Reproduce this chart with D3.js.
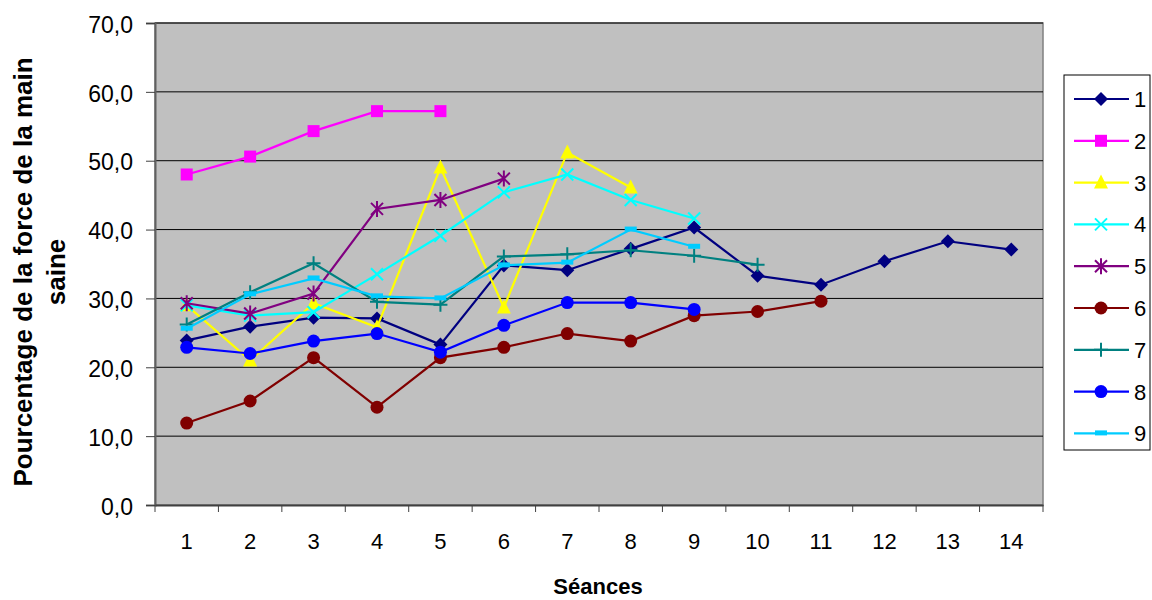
<!DOCTYPE html>
<html><head><meta charset="utf-8">
<script src="https://cdn.jsdelivr.net/npm/d3@7"></script>
<style>body{margin:0;background:#fff}</style>
</head><body><svg id="c" width="1152" height="600"></svg>
<script>
const categories = ["1","2","3","4","5","6","7","8","9","10","11","12","13","14"];
const yTicks = [0,10,20,30,40,50,60,70];
const seriesNames = ["1","2","3","4","5","6","7","8","9"];
const s1 = [23.9,25.9,27.2,27.1,23.3,34.8,34.1,37.2,40.3,33.3,32.0,35.4,38.3,37.1];
const s2 = [48.0,50.6,54.3,57.2,57.2];
const s3 = [29.0,21.0,29.3,25.8,49.0,28.7,51.2,46.1];
const s4 = [29.0,27.5,28.0,33.5,39.1,45.4,48.0,44.3,41.6];
const s5 = [29.3,27.8,30.7,43.0,44.3,47.4];
const s6 = [11.9,15.1,21.4,14.2,21.4,22.9,24.9,23.8,27.5,28.1,29.6];
const s7 = [26.2,30.9,35.1,29.5,29.1,36.1,36.4,37.0,36.2,34.9];
const s8 = [22.9,22.0,23.8,24.9,22.2,26.1,29.4,29.4,28.4];
const s9 = [25.6,30.6,32.9,30.3,30.0,34.8,35.2,40.0,37.5];
const seriesValues = [s1,s2,s3,s4,s5,s6,s7,s8,s9];
const colors = ["#000080","#FF00FF","#FFFF00","#00FFFF","#800080","#800000","#008080","#0000FF","#00CCFF"];
const markers = ["diamond","square","triangle","x","star","circle","plus","circle","dash"];

const svg = d3.select("#c");
const L=155,R=1043,T=23,B=505;
const x = d3.scaleBand().domain(categories).range([L,R]);
const y = d3.scaleLinear().domain([0,70]).range([B,T]);
const font = "Liberation Sans, Arial, sans-serif";

svg.append("rect").attr("x",L).attr("y",T).attr("width",R-L).attr("height",B-T)
  .attr("fill","#C0C0C0").attr("stroke","#808080").attr("stroke-width",1.5);
svg.append("g").selectAll("line").data(yTicks.filter(d=>d>0)).join("line")
  .attr("x1",L).attr("x2",R).attr("y1",d=>y(d)).attr("y2",d=>y(d))
  .attr("stroke","#000").attr("stroke-width",1);

// y axis
const ya = svg.append("g").attr("transform",`translate(${L},0)`)
  .call(d3.axisLeft(y).tickValues(yTicks).tickSize(9).tickPadding(13)
    .tickFormat(d=>d3.format(".1f")(d).replace(".",",")));
ya.select(".domain").attr("stroke","#606060").attr("stroke-width",2);
ya.selectAll(".tick line").attr("stroke","#404040");
ya.selectAll("text").attr("font-family",font).attr("font-size",23).attr("fill","#000")
  .attr("dy","0.4em");

// x axis
const xa = svg.append("g").attr("transform",`translate(0,${B})`)
  .call(d3.axisBottom(x).tickSize(0).tickPadding(28));
xa.select(".domain").attr("stroke","#404040").attr("stroke-width",2);
xa.selectAll("text").attr("font-family",font).attr("font-size",22).attr("fill","#000");
xa.selectAll(".bt").data(categories.map((c,i)=>i).concat([categories.length])).join("line")
  .attr("x1",i=>L+i*x.step()).attr("x2",i=>L+i*x.step()).attr("y1",0).attr("y2",7)
  .attr("stroke","#404040");

// titles
svg.append("text").attr("x",598).attr("y",594).attr("text-anchor","middle")
  .attr("font-family",font).attr("font-size",22).attr("font-weight","bold").text("Séances");
const yt = svg.append("text").attr("transform","translate(32,272) rotate(-90)")
  .attr("text-anchor","middle").attr("font-family",font).attr("font-size",26).attr("font-weight","bold");
yt.append("tspan").attr("x",0).attr("dy",0).text("Pourcentage de la force de la main");
yt.append("tspan").attr("x",0).attr("dy",33).text("saine");

function drawMarker(g, type, color){
  if(type==="diamond") g.append("path").attr("d","M0,-7L7,0L0,7L-7,0Z").attr("fill",color);
  else if(type==="square") g.append("rect").attr("x",-6).attr("y",-6).attr("width",12).attr("height",12).attr("fill",color);
  else if(type==="triangle") g.append("path").attr("d","M0,-8L7,6L-7,6Z").attr("fill",color);
  else if(type==="circle") g.append("circle").attr("r",6.5).attr("fill",color);
  else if(type==="x") g.append("path").attr("d","M-6,-6L6,6M-6,6L6,-6").attr("stroke",color).attr("stroke-width",2).attr("fill","none");
  else if(type==="plus") g.append("path").attr("d","M-7,0L7,0M0,-7L0,7").attr("stroke",color).attr("stroke-width",2).attr("fill","none");
  else if(type==="star") g.append("path").attr("d","M-6,-6L6,6M-6,6L6,-6M0,-8L0,8").attr("stroke",color).attr("stroke-width",2).attr("fill","none");
  else if(type==="dash") g.append("rect").attr("x",-6).attr("y",-3).attr("width",12).attr("height",5).attr("fill",color);
}

const line = d3.line().x((d,i)=>x(categories[i])+x.bandwidth()/2).y(d=>y(d));
seriesValues.forEach((vals,si)=>{
  const g = svg.append("g");
  g.append("path").datum(vals).attr("d",line).attr("fill","none")
    .attr("stroke",colors[si]).attr("stroke-width",2.2);
  vals.forEach((v,i)=>{
    const mg = g.append("g").attr("transform",`translate(${x(categories[i])+x.bandwidth()/2},${y(v)})`);
    drawMarker(mg, markers[si], colors[si]);
  });
});

// legend
const lg = svg.append("g");
lg.append("rect").attr("x",1064).attr("y",75).attr("width",86).attr("height",375)
  .attr("fill","#fff").attr("stroke","#000").attr("stroke-width",1);
seriesNames.forEach((n,i)=>{
  const yy = 99 + i*41.8;
  lg.append("line").attr("x1",1074).attr("x2",1129).attr("y1",yy).attr("y2",yy)
    .attr("stroke",colors[i]).attr("stroke-width",2.2);
  const mg = lg.append("g").attr("transform",`translate(1101,${yy})`);
  drawMarker(mg, markers[i], colors[i]);
  lg.append("text").attr("x",1134).attr("y",yy+8).attr("font-family",font).attr("font-size",22).text(n);
});
</script></body></html>
